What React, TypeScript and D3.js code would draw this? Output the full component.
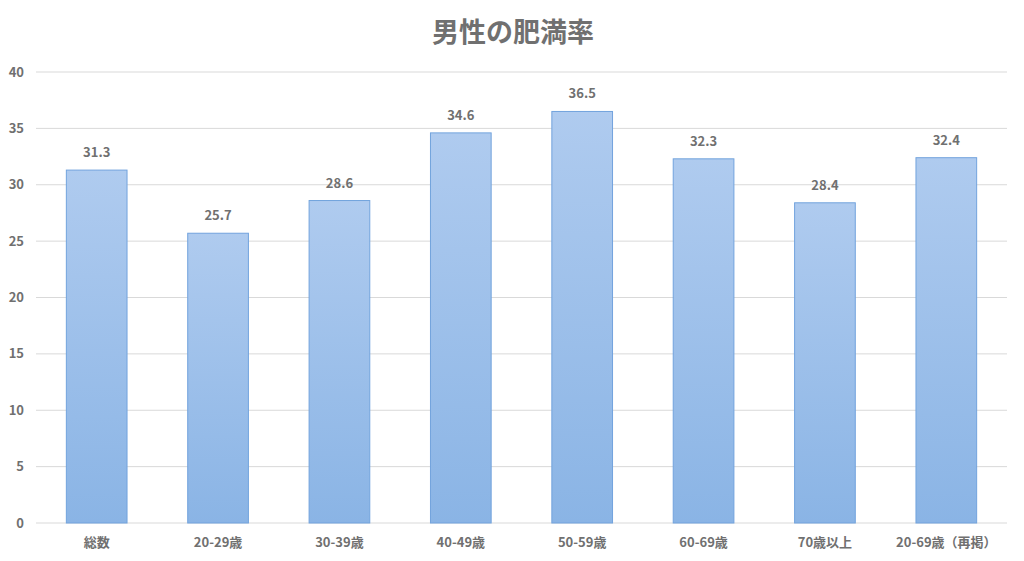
import React from 'react';
import * as d3 from 'd3';

const categories = ['総数', '20-29歳', '30-39歳', '40-49歳', '50-59歳', '60-69歳', '70歳以上', '20-69歳（再掲）'];
const values = [31.3, 25.7, 28.6, 34.6, 36.5, 32.3, 28.4, 32.4];
const yTicks = [0, 5, 10, 15, 20, 25, 30, 35, 40];
const title = '男性の肥満率';

const W = 1024;
const H = 561;
const margin = { top: 72, right: 17, bottom: 38, left: 36 };
const font = '"Noto Sans CJK JP", "Noto Sans", sans-serif';
const textColor = '#707070';

export default function App() {
  const x = d3.scaleBand<string>()
    .domain(categories)
    .range([margin.left, W - margin.right])
    .paddingInner(0.5)
    .paddingOuter(0.25);

  const y = d3.scaleLinear()
    .domain([0, 40])
    .range([H - margin.bottom, margin.top]);

  return (
    <svg width={W} height={H} style={{ position: 'absolute', left: 0, top: 0, background: '#fff' }}>
      <defs>
        <linearGradient id="barFill" x1="0" y1="0" x2="0" y2="1">
          <stop offset="0%" stopColor="#afcbef" />
          <stop offset="100%" stopColor="#8ab4e5" />
        </linearGradient>
      </defs>

      <text x={W / 2 + 1} y={42} textAnchor="middle" fontFamily={font} fontWeight="bold" fontSize={27} fill={textColor}>
        {title}
      </text>

      {/* grid + y labels */}
      {yTicks.map(t => (
        <g key={t}>
          <line x1={margin.left} x2={W - margin.right} y1={y(t)} y2={y(t)} stroke="#d9d9d9" strokeWidth={1} />
          <text x={24} y={y(t)} dy="0.35em" textAnchor="end" fontFamily={font} fontWeight="bold" fontSize={13} fill={textColor}>
            {t}
          </text>
        </g>
      ))}

      {/* bars */}
      {categories.map((c, i) => (
        <g key={c}>
          <rect
            x={x(c)!}
            y={y(values[i])}
            width={x.bandwidth()}
            height={y(0) - y(values[i])}
            fill="url(#barFill)"
            stroke="#72a3dd"
            strokeWidth={1}
          />
          <text
            x={x(c)! + x.bandwidth() / 2}
            y={y(values[i]) - 13}
            textAnchor="middle"
            fontFamily={font}
            fontWeight="bold"
            fontSize={13}
            fill={textColor}
          >
            {values[i].toFixed(1)}
          </text>
          <text
            x={x(c)! + x.bandwidth() / 2}
            y={H - 14}
            textAnchor="middle"
            fontFamily={font}
            fontWeight="bold"
            fontSize={13}
            fill={textColor}
          >
            {c}
          </text>
        </g>
      ))}
    </svg>
  );
}
